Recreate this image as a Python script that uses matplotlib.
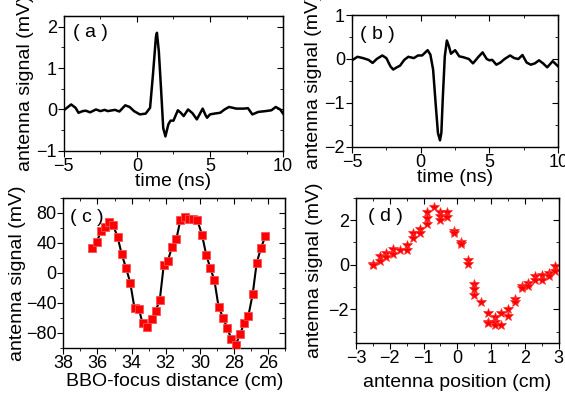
import matplotlib
matplotlib.use('Agg')
import matplotlib.pyplot as plt
from matplotlib.ticker import MultipleLocator

plt.rcParams['font.family'] = ['Liberation Sans', 'DejaVu Sans']

# (a) antenna signal vs time
ta = [-5, -4.5, -4.2, -4, -3.7, -3.5, -3.2, -2.8, -2.5, -2.2, -2, -1.5, -1.2, -0.8, -0.5,
      -0.2, 0.2, 0.6, 0.9, 1.1, 1.3, 1.37, 1.5, 1.65, 1.8, 1.95, 2.15, 2.3, 2.5, 2.8, 3.0,
      3.2, 3.5, 3.8, 4.1, 4.5, 4.7, 4.8, 5.0, 5.3, 5.7, 6.0, 6.3, 6.8, 7.3, 7.6, 7.9, 8.3,
      8.8, 9.2, 9.5, 9.8, 10]
va = [-0.02, 0.12, 0.04, -0.08, -0.04, -0.03, -0.07, 0.0, -0.04, -0.01, -0.04, -0.01, -0.05,
      0.1, 0.06, -0.04, -0.12, -0.1, 0.04, 0.85, 1.75, 1.85, 1.4, 0.5, -0.45, -0.65, -0.36,
      -0.27, -0.27, -0.02, -0.08, -0.16, 0.0, -0.09, -0.24, 0.02, -0.14, -0.2, -0.12, -0.1,
      -0.08, 0.0, 0.06, 0.02, 0.02, 0.03, -0.12, -0.06, -0.04, -0.02, 0.06, 0.0, -0.1]

# (b) antenna signal vs time
tb = [-5, -4.6, -4.2, -3.8, -3.5, -3.2, -2.8, -2.5, -2.2, -2.0, -1.8, -1.5, -1.2, -0.9, -0.5,
      -0.2, 0.1, 0.3, 0.5, 0.7, 0.9, 1.1, 1.25, 1.4, 1.5, 1.6, 1.75, 1.9, 2.05, 2.2, 2.5, 2.8,
      3.1, 3.5, 3.8, 4.2, 4.5, 4.8, 5.0, 5.2, 5.5, 5.8, 6.1, 6.5, 6.8, 7.1, 7.4, 7.7, 8.0,
      8.3, 8.6, 8.9, 9.2, 9.6, 10]
vb = [-0.03, 0.05, 0.02, -0.02, -0.09, 0.0, 0.08, 0.02, -0.17, -0.24, -0.2, -0.15, -0.02,
      0.05, 0.02, 0.08, 0.08, 0.14, 0.2, 0.1, -0.24, -1.08, -1.68, -1.85, -1.68, -0.92, 0.06,
      0.42, 0.29, 0.12, 0.2, 0.06, 0.04, 0.0, -0.1, 0.05, 0.15, 0.0, -0.03, -0.02, -0.13,
      -0.08, 0.0, 0.08, 0.02, 0.0, 0.09, -0.08, -0.13, -0.1, -0.03, -0.1, -0.19, -0.05, -0.17]

# (c) signal vs BBO-focus distance
dc = [36.29, 36.04, 35.79, 35.55, 35.32, 35.09, 34.82, 34.58, 34.33, 34.08, 33.83, 33.57,
      33.36, 33.11, 32.83, 32.60, 32.35, 32.12, 31.88, 31.63, 31.38, 31.15, 30.89, 30.66,
      30.43, 30.16, 29.88, 29.63, 29.40, 29.15, 28.91, 28.64, 28.41, 28.16, 27.90, 27.65,
      27.40, 27.17, 26.91, 26.68, 26.43, 26.17]
vc = [33, 41, 56, 61, 68, 64, 48, 25, 7, -13, -47, -48, -67, -72, -61, -51, -36, 10, 16, 35,
      45, 70, 75, 72, 72, 71, 51, 24, 7, -10, -45, -60, -73, -88, -96, -81, -67, -58, -28,
      13, 33, 49]

# (d) signal vs antenna position
xd = [-2.5, -2.5, -2.3, -2.3, -2.1, -2.1, -1.9, -1.9, -1.7, -1.5, -1.5, -1.3, -1.3, -1.1,
      -1.1, -0.9, -0.9, -0.9, -0.7, -0.5, -0.5, -0.5, -0.3, -0.3, -0.1, -0.1, 0.1, 0.1,
      0.3, 0.3, 0.5, 0.5, 0.5, 0.7, 0.9, 0.9, 0.9, 1.1, 1.1, 1.1, 1.3, 1.3, 1.5, 1.5,
      1.7, 1.7, 1.9, 1.9, 2.1, 2.1, 2.3, 2.3, 2.5, 2.5, 2.7, 2.7, 2.9, 2.9]
vd = [0.05, -0.03, 0.4, 0.17, 0.54, 0.35, 0.72, 0.5, 0.65, 0.9, 0.65, 1.43, 1.2, 1.62,
      1.44, 2.38, 2.1, 1.82, 2.57, 2.35, 2.2, 2.03, 2.35, 2.15, 1.5, 1.43, 1.02, 0.95,
      0.2, 0.05, -0.86, -1.08, -1.34, -1.68, -2.14, -2.56, -2.63, -2.36, -2.56, -2.7,
      -2.14, -2.7, -1.98, -2.29, -1.53, -1.68, -0.93, -1.05, -0.81, -0.93, -0.48, -0.68,
      -0.44, -0.68, -0.38, -0.51, -0.06, -0.26]

ylab = 'antenna signal (mV)'
lab_fs = 14
tick_fs = 13
tag_fs = 14

fig = plt.figure(figsize=(5.65, 3.95), dpi=100)
ax_a = fig.add_axes([0.113, 0.618, 0.388, 0.341])
ax_b = fig.add_axes([0.623, 0.628, 0.365, 0.334])
ax_c = fig.add_axes([0.112, 0.119, 0.393, 0.380])
ax_d = fig.add_axes([0.630, 0.132, 0.359, 0.367])


def style(ax, xmaj, xmin, ymaj, ymin):
    ax.xaxis.set_major_locator(MultipleLocator(xmaj))
    ax.xaxis.set_minor_locator(MultipleLocator(xmin))
    ax.yaxis.set_major_locator(MultipleLocator(ymaj))
    ax.yaxis.set_minor_locator(MultipleLocator(ymin))
    ax.tick_params(which='both', direction='out', labelsize=tick_fs, pad=1)
    ax.tick_params(which='major', length=4)
    ax.tick_params(which='minor', length=2.5)
    for s in ax.spines.values():
        s.set_linewidth(1.0)
    top = ax.secondary_xaxis('top')
    top.xaxis.set_major_locator(MultipleLocator(xmaj))
    top.xaxis.set_minor_locator(MultipleLocator(xmin))
    top.tick_params(which='both', direction='in', labeltop=False)
    top.tick_params(which='major', length=4)
    top.tick_params(which='minor', length=2.5)
    right = ax.secondary_yaxis('right')
    right.yaxis.set_major_locator(MultipleLocator(ymaj))
    right.yaxis.set_minor_locator(MultipleLocator(ymin))
    right.tick_params(which='both', direction='in', labelright=False)
    right.tick_params(which='major', length=4)
    right.tick_params(which='minor', length=2.5)


ax_a.plot(ta, va, color='black', lw=1.8)
ax_a.set_xlim(-5, 10)
ax_a.set_ylim(-1, 2.25)
style(ax_a, 5, 2.5, 1, 0.5)
ax_a.set_xlabel('time (ns)', fontsize=lab_fs, labelpad=-1)
ax_a.set_ylabel(ylab, fontsize=lab_fs, labelpad=2)
ax_a.text(0.04, 0.88, '( a )', transform=ax_a.transAxes, fontsize=tag_fs, va='center')

ax_b.plot(tb, vb, color='black', lw=1.8)
ax_b.set_xlim(-5, 10)
ax_b.set_ylim(-2, 1)
style(ax_b, 5, 2.5, 1, 0.5)
ax_b.set_xlabel('time (ns)', fontsize=lab_fs, labelpad=-1)
ax_b.set_ylabel(ylab, fontsize=lab_fs, labelpad=2)
ax_b.text(0.04, 0.85, '( b )', transform=ax_b.transAxes, fontsize=tag_fs, va='center')

ax_c.plot(dc, vc, color='black', lw=1.5, zorder=2)
ax_c.plot(dc, vc, ls='none', marker='s', ms=5.5, mfc='#ff0000', mec='#ff5050',
          mew=0.6, zorder=3)
ax_c.set_xlim(38, 25)
ax_c.set_ylim(-100, 100)
style(ax_c, 2, 1, 40, 20)
ax_c.set_xlabel('BBO-focus distance (cm)', fontsize=lab_fs, labelpad=1)
ax_c.set_ylabel(ylab, fontsize=lab_fs, labelpad=0)
ax_c.text(0.03, 0.87, '( c )', transform=ax_c.transAxes, fontsize=tag_fs, va='center')

ax_d.plot(xd, vd, ls='none', marker='*', ms=7, mfc='#ff0000', mec='#ff3030', mew=0.5)
ax_d.set_xlim(-3, 3)
ax_d.set_ylim(-3.5, 3)
style(ax_d, 1, 0.5, 2, 1)
ax_d.set_xlabel('antenna position (cm)', fontsize=lab_fs, labelpad=5)
ax_d.set_ylabel(ylab, fontsize=lab_fs, labelpad=4)
ax_d.text(0.06, 0.875, '( d )', transform=ax_d.transAxes, fontsize=tag_fs, va='center')

fig.savefig('out.png', dpi=100)
